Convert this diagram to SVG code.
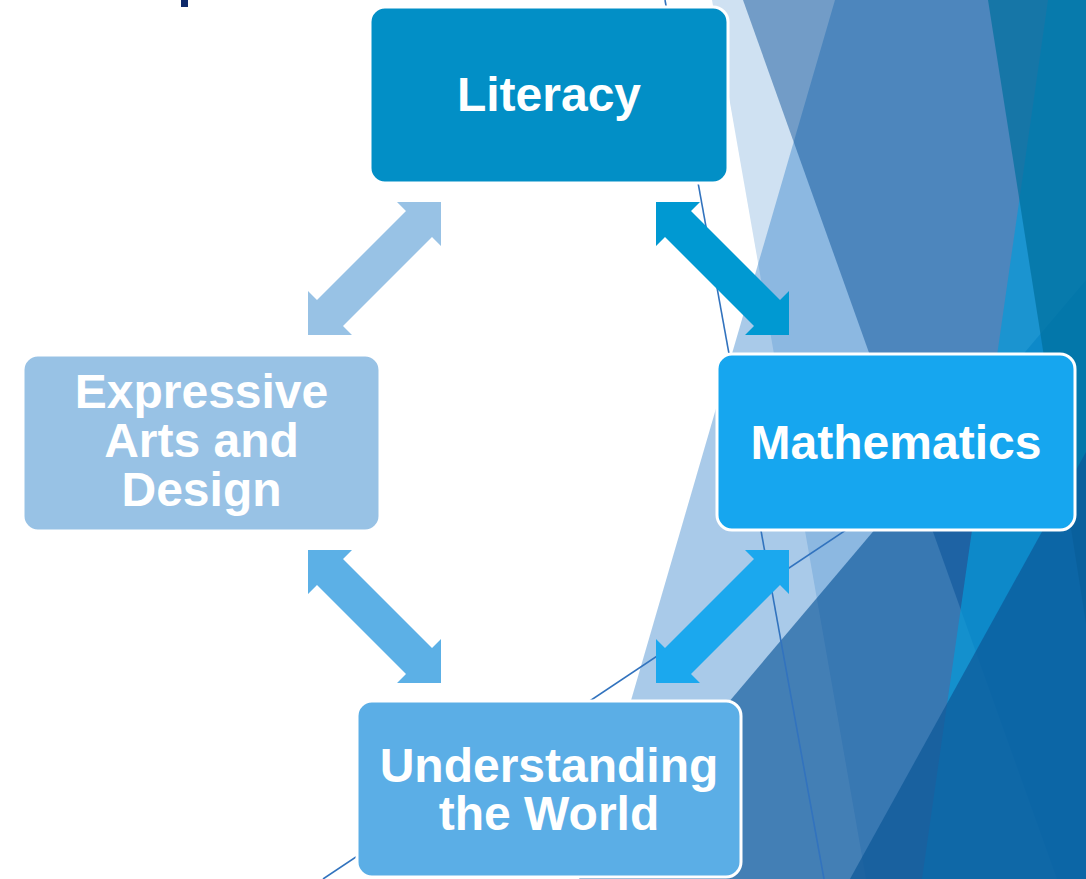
<svg xmlns="http://www.w3.org/2000/svg" width="1086" height="879" viewBox="0 0 1086 879">
<defs>
<style>
.box{stroke:#ffffff;stroke-width:3}
.lbl{font-family:"Liberation Sans",Arial,sans-serif;font-weight:bold;font-size:48px;fill:#ffffff;text-anchor:middle}
.thin{stroke:#3273BE;stroke-width:1.6;fill:none}
</style>
<path id="arr" d="M133,0 L133,44 L124,35 L35,124 L44,133 L0,133 L0,89 L9,98 L98,9 L89,0 Z"/>
</defs>
<rect width="1086" height="879" fill="#ffffff"/>
<g id="background">
  <polygon points="712,0 1086,0 1086,879 866,879" fill="#CFE1F2"/>
  <polygon points="835,0 1086,0 1086,879 579,879" fill="rgb(40,122,200)" fill-opacity="0.4"/>
  <polygon points="743,0 1086,0 1086,879 1057,879" fill="rgb(0,74,146)" fill-opacity="0.45"/>
  <polygon points="1086,280 579,879 1086,879" fill="rgb(0,77,146)" fill-opacity="0.6"/>
  <polygon points="1048,0 1086,0 1086,879 922,879" fill="rgb(6,154,216)" fill-opacity="0.7"/>
  <polygon points="988,0 1086,0 1086,624" fill="rgb(0,111,158)" fill-opacity="0.71"/>
  <polygon points="1086,452 850,879 1086,879" fill="rgb(13,87,151)" fill-opacity="0.7"/>
  <line class="thin" x1="665" y1="0" x2="824" y2="879"/>
  <line class="thin" x1="323" y1="879" x2="900" y2="494"/>
  <rect x="181" y="0" width="7" height="7" fill="#0E2A6B"/>
</g>
<g id="connectors">
  <use href="#arr" x="308" y="202" fill="#98C2E5"/>
  <use href="#arr" transform="translate(789,202) scale(-1,1)" fill="#0099D2"/>
  <use href="#arr" transform="translate(441,550) scale(-1,1)" fill="#5CB0E6"/>
  <use href="#arr" x="656" y="550" fill="#1BA8EE"/>
</g>
<g id="literacy">
  <rect class="box" x="370" y="7" width="358" height="176" rx="15" fill="#028FC6"/>
  <text class="lbl" x="549" y="111">Literacy</text>
</g>
<g id="expressive">
  <rect class="box" x="23" y="355" width="357" height="176" rx="15" fill="#98C2E5"/>
  <text class="lbl" x="201.5" y="408">Expressive</text>
  <text class="lbl" x="201.5" y="457">Arts and</text>
  <text class="lbl" x="201.5" y="506">Design</text>
</g>
<g id="mathematics">
  <rect class="box" x="717" y="354" width="358" height="176" rx="15" fill="#16A6EF"/>
  <text class="lbl" x="896" y="459">Mathematics</text>
</g>
<g id="understanding">
  <rect class="box" x="357" y="701" width="384" height="176" rx="15" fill="#5BAEE6"/>
  <text class="lbl" x="549" y="782">Understanding</text>
  <text class="lbl" x="549" y="830">the World</text>
</g>
</svg>
